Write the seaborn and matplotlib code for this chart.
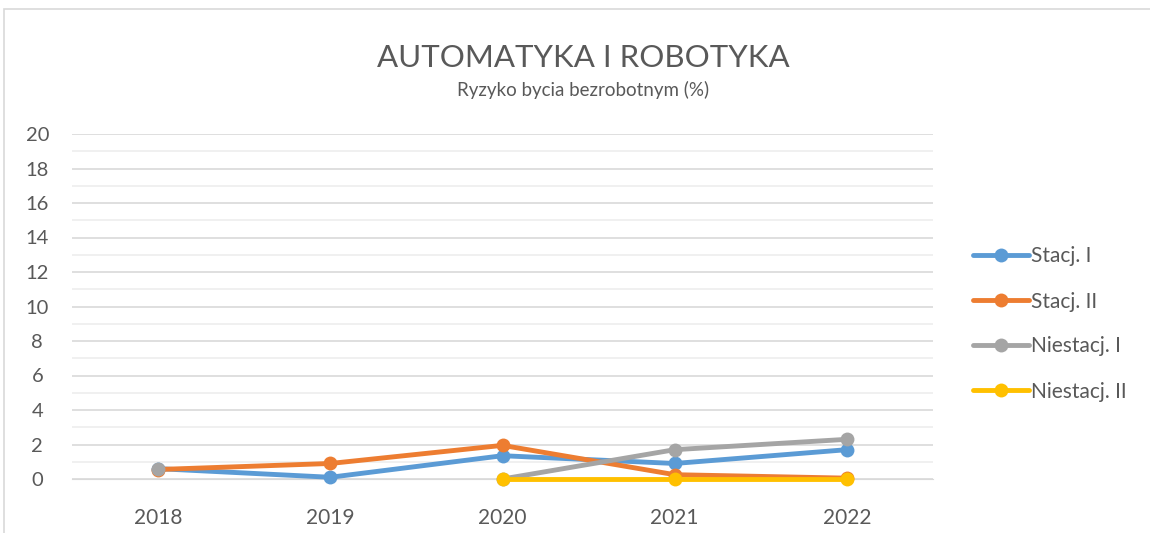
import numpy as np
import pandas as pd
import matplotlib
matplotlib.use('Agg')
import matplotlib.pyplot as plt
import seaborn as sns
from matplotlib.lines import Line2D
from matplotlib.patches import Rectangle

# Values (NaN = no point)
years = ['2018', '2019', '2020', '2021', '2022']
stacj_1 = [0.6, 0.1, 1.35, 0.9, 1.7]
stacj_2 = [0.55, 0.9, 1.95, 0.25, 0.05]
niestacj_1 = [0.6, np.nan, 0.0, 1.7, 2.3]
niestacj_2 = [np.nan, np.nan, 0.0, 0.0, 0.0]

series = {'Stacj. I': stacj_1, 'Stacj. II': stacj_2,
          'Niestacj. I': niestacj_1, 'Niestacj. II': niestacj_2}
colors = ['#5B9BD5', '#ED7D31', '#A5A5A5', '#FFC000']
palette = dict(zip(series.keys(), colors))

# Long form table; a gap (NaN) starts a new segment so lines are not joined across it
rows = []
for name, vals in series.items():
    seg = 0
    for i, v in enumerate(vals):
        if np.isnan(v):
            seg += 1
            continue
        rows.append({'x': i, 'value': v, 'series': name, 'seg': f'{name}_{seg}'})
df = pd.DataFrame(rows)

sns.set_style('white')
plt.rcParams['font.family'] = ['Lato', 'DejaVu Sans']
txt = '#595959'

fig = plt.figure(figsize=(11.5, 5.33), dpi=100)
ax = fig.add_axes([72 / 1150, 1 - 479 / 533, (933 - 72) / 1150, (479 - 134) / 533])

sns.lineplot(data=df, x='x', y='value', hue='series', units='seg', estimator=None,
             palette=palette, hue_order=list(series.keys()), marker='o', markersize=10,
             markeredgewidth=0, linewidth=3.5, legend=False, ax=ax)

# keep Excel's series stacking order (last series on top) and let points at 0 show fully
color_rank = {c: i for i, c in enumerate(colors)}
for ln in ax.get_lines():
    c = matplotlib.colors.to_hex(ln.get_color()).upper()
    ln.set_zorder(5 + color_rank.get(c, 0))
    ln.set_clip_on(False)

ax.set_xlim(-0.5, 4.5)
ax.set_ylim(0, 20)
ax.set_xticks(range(len(years)))
ax.set_xticklabels(years)
ax.set_yticks(range(0, 21, 2))
ax.set_yticks(range(1, 20, 2), minor=True)
ax.grid(axis='y', which='major', color='#D9D9D9', linewidth=1.2, zorder=0)
ax.grid(axis='y', which='minor', color='#EDEDED', linewidth=1.2, zorder=0)
ax.set_axisbelow(True)
for s in ['top', 'right', 'left']:
    ax.spines[s].set_visible(False)
ax.spines['bottom'].set_color('#D9D9D9')
ax.tick_params(axis='both', which='both', length=0, colors=txt)
ax.tick_params(axis='x', labelsize=15, pad=21)
ax.tick_params(axis='y', labelsize=14.5, pad=25)
for lab in ax.get_yticklabels():
    lab.set_horizontalalignment('center')
ax.set_xlabel('')
ax.set_ylabel('')

fig.text(583 / 1150, 1 - 58 / 533, 'AUTOMATYKA I ROBOTYKA', ha='center', va='center',
         fontsize=22.5, color=txt)
fig.text(583 / 1150, 1 - 90 / 533, 'Ryzyko bycia bezrobotnym (%)', ha='center', va='center',
         fontsize=13.5, color=txt)

handles = [Line2D([0], [0], color=c, lw=3.5, marker='o', markersize=10, markeredgewidth=0)
           for c in colors]
fig.legend(handles, list(series.keys()), loc='center left',
           bbox_to_anchor=(954 / 1150, 1 - 324 / 533), frameon=False, fontsize=15,
           labelcolor=txt, handlelength=2.7, handletextpad=0.1, labelspacing=1.2)

fig.patches.append(Rectangle((4 / 1150, -0.1), 1.2, 1 - 9 / 533 + 0.1,
                             transform=fig.transFigure, fill=False,
                             edgecolor='#D9D9D9', linewidth=1.2))

fig.savefig('out.png', dpi=100, facecolor='white')
